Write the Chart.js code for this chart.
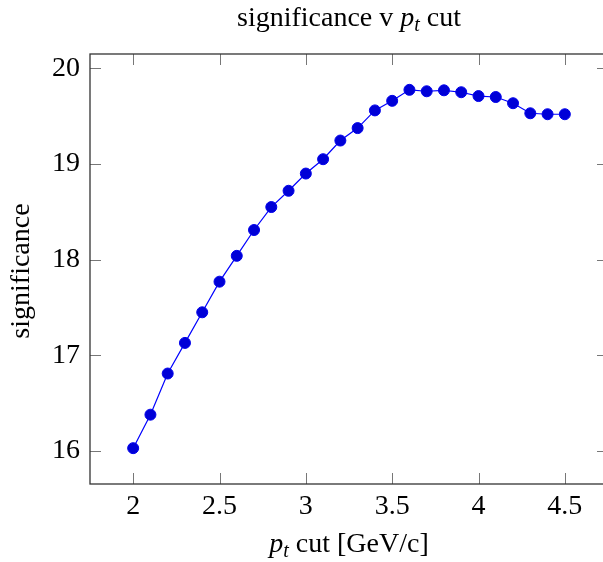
<!DOCTYPE html>
<html>
<head>
<meta charset="utf-8">
<script src="https://cdn.jsdelivr.net/npm/chart.js@4"></script>
<style>
  html, body { margin: 0; padding: 0; background: #fff; overflow: hidden; }
  #wrap { position: absolute; left: 0; top: 0; width: 615px; height: 562px; }
</style>
</head>
<body>
<div id="wrap"><canvas id="myChart" width="615" height="562"></canvas></div>
<script>
// pt cut values (GeV/c) and the significance
const ptCut = [2.0, 2.1, 2.2, 2.3, 2.4, 2.5, 2.6, 2.7, 2.8, 2.9, 3.0, 3.1, 3.2,
               3.3, 3.4, 3.5, 3.6, 3.7, 3.8, 3.9, 4.0, 4.1, 4.2, 4.3, 4.4, 4.5];
const significance = [16.03, 16.38, 16.81, 17.13, 17.45, 17.77, 18.04, 18.31, 18.55,
                      18.72, 18.90, 19.05, 19.245, 19.375, 19.56, 19.66, 19.775, 19.76,
                      19.77, 19.75, 19.71, 19.70, 19.635, 19.53, 19.52, 19.52];
const xTicks = [2, 2.5, 3, 3.5, 4, 4.5];
const yTicks = [16, 17, 18, 19, 20];

const serif = "'Liberation Serif', 'DejaVu Serif', serif";
const fontSize = 28;

// axis limits enlarged by 10% like pgfplots does
const xMin = 1.75, xMax = 4.75;
const ySpan = Math.max(...significance) - Math.min(...significance);
const yMin = Math.min(...significance) - 0.1 * ySpan;
const yMax = Math.max(...significance) + 0.1 * ySpan;

// draws "p_t" followed by rest, starting at x, returns nothing
function drawPt(ctx, text, cx, y) {
    const big = fontSize + 'px ' + serif;
    const bigIt = 'italic ' + fontSize + 'px ' + serif;
    const small = 'italic ' + Math.round(fontSize * 0.7) + 'px ' + serif;
    const parts = [
        { t: text[0], f: big, dy: 0 },
        { t: 'p', f: bigIt, dy: 0 },
        { t: 't', f: small, dy: 5 },
        { t: text[1], f: big, dy: 0 }
    ];
    let total = 0;
    parts.forEach(p => { ctx.font = p.f; p.w = ctx.measureText(p.t).width; total += p.w; });
    let x = cx - total / 2;
    ctx.textAlign = 'left';
    ctx.textBaseline = 'alphabetic';
    parts.forEach(p => {
        ctx.font = p.f;
        ctx.fillText(p.t, x, y + p.dy);
        x += p.w;
    });
}

const framePlugin = {
    id: 'frame',
    afterDraw(chart) {
        const ctx = chart.ctx;
        const a = chart.chartArea;
        const xs = chart.scales.x, ys = chart.scales.y;
        ctx.save();
        // inward ticks on all four sides
        ctx.strokeStyle = '#777';
        ctx.lineWidth = 1;
        ctx.beginPath();
        xTicks.forEach(v => {
            const px = Math.round(xs.getPixelForValue(v)) + 0.5;
            ctx.moveTo(px, a.bottom); ctx.lineTo(px, a.bottom - 11);
            ctx.moveTo(px, a.top); ctx.lineTo(px, a.top + 11);
        });
        yTicks.forEach(v => {
            const py = Math.round(ys.getPixelForValue(v)) + 0.5;
            ctx.moveTo(a.left, py); ctx.lineTo(a.left + 11, py);
            ctx.moveTo(a.right, py); ctx.lineTo(a.right - 11, py);
        });
        ctx.stroke();
        // box
        ctx.strokeStyle = '#333';
        ctx.lineWidth = 1.3;
        ctx.strokeRect(a.left, a.top, a.right - a.left, a.bottom - a.top);

        ctx.fillStyle = '#000';
        const cx = (a.left + a.right) / 2;
        drawPt(ctx, ['significance v ', ' cut'], cx, 26);
        drawPt(ctx, ['', ' cut [GeV/c]'], cx, 552);

        ctx.translate(29, 271);
        ctx.rotate(-Math.PI / 2);
        ctx.font = fontSize + 'px ' + serif;
        ctx.textAlign = 'center';
        ctx.textBaseline = 'alphabetic';
        ctx.fillText('significance', 0, 0);
        ctx.restore();
    }
};

const ctx = document.getElementById('myChart').getContext('2d');
const myChart = new Chart(ctx, {
    type: 'line',
    data: {
        datasets: [{
            data: ptCut.map((x, i) => ({ x: x, y: significance[i] })),
            borderColor: 'rgb(0, 0, 255)',
            borderWidth: 1.2,
            pointBackgroundColor: 'rgb(0, 0, 215)',
            pointBorderColor: 'rgb(0, 0, 235)',
            pointBorderWidth: 1,
            pointRadius: 5.5,
            tension: 0
        }]
    },
    options: {
        responsive: false,
        animation: false,
        layout: { padding: { top: 54, right: 7, left: 0, bottom: 0 } },
        plugins: { legend: { display: false }, tooltip: { enabled: false } },
        scales: {
            x: {
                type: 'linear',
                min: xMin,
                max: xMax,
                grid: { display: false, drawTicks: false },
                border: { display: false },
                afterBuildTicks: s => { s.ticks = xTicks.map(v => ({ value: v })); },
                afterFit: s => { s.height = 78; },
                ticks: {
                    color: '#000',
                    padding: 6,
                    maxRotation: 0,
                    font: { family: serif, size: fontSize },
                    callback: v => String(v)
                }
            },
            y: {
                type: 'linear',
                min: yMin,
                max: yMax,
                grid: { display: false, drawTicks: false },
                border: { display: false },
                afterBuildTicks: s => { s.ticks = yTicks.map(v => ({ value: v })); },
                afterFit: s => { s.width = 90; },
                ticks: {
                    color: '#000',
                    padding: 10,
                    font: { family: serif, size: fontSize },
                    callback: v => String(v)
                }
            }
        }
    },
    plugins: [framePlugin]
});
</script>
</body>
</html>
